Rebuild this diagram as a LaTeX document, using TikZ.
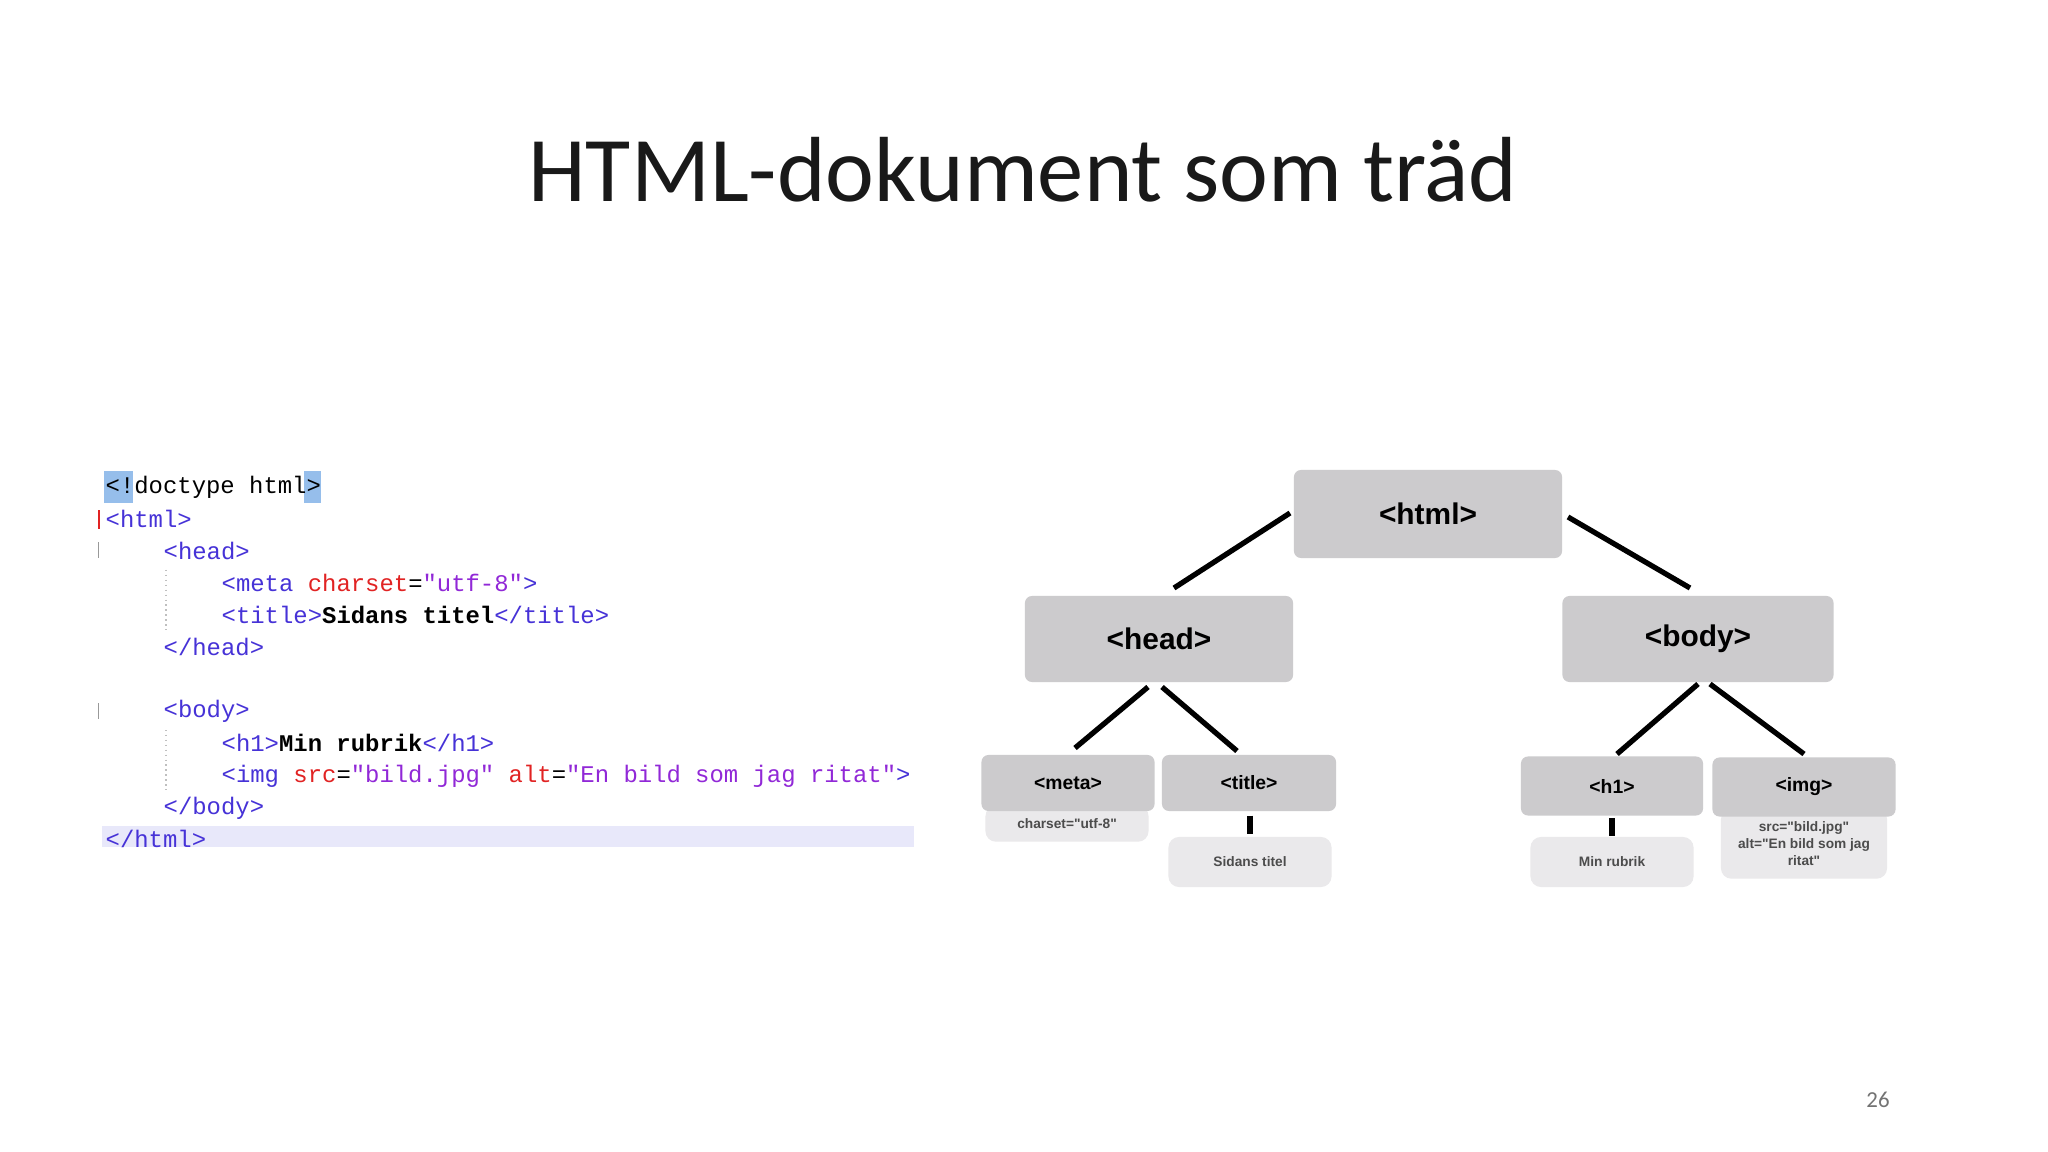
\documentclass[tikz,border=0pt]{standalone}
\usepackage{fontspec}
\setmainfont{Carlito}
\newfontfamily\codefont{Liberation Mono}
\newfontfamily\arialfont{Liberation Sans}
\definecolor{tagc}{RGB}{70,50,215}
\definecolor{attrc}{RGB}{225,35,35}
\definecolor{valc}{RGB}{145,40,215}
\definecolor{boxc}{RGB}{204,203,205}
\definecolor{subc}{RGB}{234,233,235}
\definecolor{hlc}{RGB}{150,190,235}
\definecolor{lastc}{RGB}{232,232,250}
\newcommand{\tg}[1]{\textcolor{tagc}{#1}}
\newcommand{\at}[1]{\textcolor{attrc}{#1}}
\newcommand{\vl}[1]{\textcolor{valc}{#1}}
\begin{document}
\begin{tikzpicture}[x=0.01cm,y=-0.01cm,
  code/.style={anchor=west,inner sep=0pt,font=\codefont\fontsize{6.8pt}{8pt}\selectfont},
  tbox/.style={fill=boxc,rounded corners=2pt,inner sep=0pt,font=\arialfont\bfseries\fontsize{8.5pt}{10pt}\selectfont},
  sbox/.style={fill=boxc,rounded corners=2pt,inner sep=0pt,font=\arialfont\bfseries\fontsize{5.5pt}{7pt}\selectfont},
  lbox/.style={fill=subc,rounded corners=3pt,inner sep=0pt,text=black!70,align=center,font=\arialfont\bfseries\fontsize{3.9pt}{4.8pt}\selectfont},
  edge/.style={line width=1.5pt,black}]
\useasboundingbox (0,0) rectangle (2048,1152);
\fill[white] (0,0) rectangle (2048,1152);
\node[text=black!90] (title) at (1023,170) {\fontsize{26.3pt}{32pt}\selectfont HTML-dokument som träd};
% code
\fill[lastc] (102,826) rectangle (914,847);
\fill[hlc] (104,471) rectangle (133,503);
\fill[hlc] (304,471) rectangle (321,503);
\fill[attrc] (98,510) rectangle (100,529);
\fill[black!40] (98,542) rectangle (99,558);
\fill[black!40] (98,703) rectangle (99,719);
\draw[black!25,densely dotted] (166,570) -- (166,630);
\draw[black!25,densely dotted] (166,730) -- (166,790);
\node[code] (c1) at (105,487) {<!doctype html>};
\node[code] (c2) at (105,519) {\tg{<html>}};
\node[code] (c3) at (163,551) {\tg{<head>}};
\node[code] (c4) at (221,583) {\tg{<meta} \at{charset}=\vl{"utf-8"}\tg{>}};
\node[code] (c5) at (221,615) {\tg{<title>}\textbf{Sidans titel}\tg{</title>}};
\node[code] (c6) at (163,647) {\tg{</head>}};
\node[code] (c7) at (163,711) {\tg{<body>}};
\node[code] (c8) at (221,743) {\tg{<h1>}\textbf{Min rubrik}\tg{</h1>}};
\node[code] (c9) at (221,776) {\tg{<img} \at{src}=\vl{"bild.jpg"} \at{alt}=\vl{"En bild som jag ritat"}\tg{>}};
\node[code] (c10) at (163,808) {\tg{</body>}};
\node[code] (c11) at (105,839) {\tg{</html>}};
% tree
\node[tbox,minimum width=2.68cm,minimum height=0.88cm] (html) at (1428,514) {<html>};
\node[tbox,minimum width=2.68cm,minimum height=0.86cm] (head) at (1159,639) {<head>};
\node[tbox,minimum width=2.71cm,minimum height=0.86cm] (body) at (1698,639) {<body>};
\node[lbox,minimum width=1.63cm,minimum height=0.36cm,anchor=north] (metas) at (1067,805) {charset="utf-8"};
\node[sbox,minimum width=1.73cm,minimum height=0.56cm] (meta) at (1068,783) {<meta>};
\node[sbox,minimum width=1.74cm,minimum height=0.56cm] (tit) at (1249,783) {<title>};
\node[lbox,minimum width=1.63cm,minimum height=0.50cm] (tits) at (1250,862) {Sidans titel};
\node[lbox,minimum width=1.66cm,minimum height=0.70cm,anchor=north] (imgs) at (1804,808) {src="bild.jpg"\\alt="En bild som jag\\ritat"};
\node[sbox,minimum width=1.82cm,minimum height=0.59cm] (h1) at (1612,786) {<h1>};
\node[sbox,minimum width=1.83cm,minimum height=0.59cm] (img) at (1804,787) {<img>};
\node[lbox,minimum width=1.63cm,minimum height=0.50cm] (h1s) at (1612,862) {Min rubrik};
\coordinate (a1) at (1290,513); \coordinate (a2) at (1174,588);
\coordinate (b1) at (1568,517); \coordinate (b2) at (1690,588);
\coordinate (c1a) at (1148,687); \coordinate (c1b) at (1075,748);
\coordinate (d1) at (1162,687); \coordinate (d2) at (1237,751);
\coordinate (e1) at (1698,684); \coordinate (e2) at (1617,754);
\coordinate (f1) at (1710,684); \coordinate (f2) at (1804,754);
\draw[edge] (a1) -- (a2);
\draw[edge] (b1) -- (b2);
\draw[edge] (c1a) -- (c1b);
\draw[edge] (d1) -- (d2);
\draw[edge] (e1) -- (e2);
\draw[edge] (f1) -- (f2);
\draw[edge] (tit.south -| tits.north) ++(0,4) coordinate (g1) -- ++(0,18);
\draw[edge] (h1.south) ++(0,2) coordinate (g2) -- ++(0,18);
\node[text=black!55,font=\fontsize{6.5pt}{8pt}\selectfont] (pg) at (1878,1100) {26};
\end{tikzpicture}
\end{document}
